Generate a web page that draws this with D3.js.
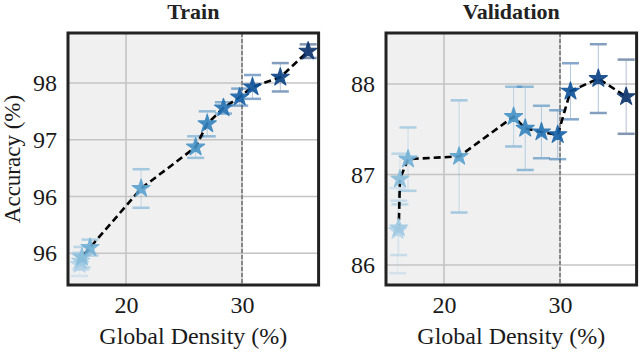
<!DOCTYPE html>
<html>
<head>
<meta charset="utf-8">
<script src="https://cdn.jsdelivr.net/npm/d3@7"></script>
<style>
  body { margin: 0; background: #fff; }
  svg text { font-family: "Liberation Serif", "DejaVu Serif", serif !important; }
</style>
</head>
<body>
<div id="chart"></div>
<script>
// data
const density  = [16.0, 16.1, 16.2, 16.9, 21.3, 26.0, 27.0, 28.4, 29.8, 30.9, 33.3, 35.7];
const trainAcc = [94.80, 94.86, 94.93, 95.10, 96.14, 96.87, 97.28, 97.56, 97.75, 97.93, 98.10, 98.56];
const trainErr = [0.20, 0.15, 0.18, 0.14, 0.34, 0.19, 0.22, 0.10, 0.15, 0.21, 0.25, 0.12];
const valAcc   = [86.38, 86.41, 86.95, 87.17, 87.20, 87.64, 87.51, 87.47, 87.44, 87.92, 88.06, 87.86];
const valErr   = [0.47, 0.30, 0.28, 0.35, 0.62, 0.33, 0.46, 0.29, 0.27, 0.31, 0.38, 0.41];

const xTicks = [20, 30];
const trainYTicks = [98, 97, 96, 95];
const trainYLabels = ["98", "97", "96", "96"];
const valYTicks = [88, 87, 86];
const valYLabels = ["88", "87", "86"];
const threshold = 30;

const W = 639, H = 352;
const svg = d3.select("#chart").append("svg")
  .attr("width", W).attr("height", H);

const color = i => d3.interpolateBlues(0.3 + 0.7 * i / (density.length - 1));

function panel(opt) {
  const x = d3.scaleLinear().domain([15, 36.6]).range([opt.left, opt.left + 250.6]);
  const y = d3.scaleLinear().domain(opt.yDomain).range([285, 33]);
  const g = svg.append("g");

  const x0 = x.range()[0], x1 = x.range()[1];
  // shaded area up to the threshold
  g.append("rect")
    .attr("x", x0).attr("y", 33)
    .attr("width", x(threshold) - x0).attr("height", 252)
    .attr("fill", "#f0f0f0");

  // grid
  g.selectAll(".vgrid").data(xTicks).join("line")
    .attr("x1", d => x(d)).attr("x2", d => x(d))
    .attr("y1", 33).attr("y2", 285)
    .attr("stroke", "#c4c4c4").attr("stroke-width", 1.6);
  g.selectAll(".hgrid").data(opt.yTicks).join("line")
    .attr("x1", x0).attr("x2", x1)
    .attr("y1", d => y(d)).attr("y2", d => y(d))
    .attr("stroke", "#c4c4c4").attr("stroke-width", 1.6);

  // threshold line
  g.append("line")
    .attr("x1", x(threshold)).attr("x2", x(threshold))
    .attr("y1", 33).attr("y2", 285)
    .attr("stroke", "#808080").attr("stroke-width", 1.8)
    .attr("stroke-dasharray", "4,2");

  // axes (labels only)
  const xAxis = g.append("g")
    .attr("transform", `translate(0,287)`)
    .call(d3.axisBottom(x).tickValues(xTicks).tickSize(0).tickPadding(9));
  const yAxis = g.append("g")
    .attr("transform", `translate(${x0 - 2},0)`)
    .call(d3.axisLeft(y).tickValues(opt.yTicks).tickSize(0).tickPadding(9)
      .tickFormat((d, i) => opt.yLabels[i]));
  [xAxis, yAxis].forEach(a => {
    a.select(".domain").remove();
    a.selectAll("text").attr("font-size", 24).attr("fill", "#1a1a1a");
  });

  const data = density.map((d, i) => ({x: d, y: opt.acc[i], e: opt.err[i], i}));

  // error bars
  const eb = g.selectAll(".eb").data(data).join("g")
    .attr("opacity", 0.5);
  eb.append("line")
    .attr("x1", d => x(d.x)).attr("x2", d => x(d.x))
    .attr("y1", d => y(d.y - d.e)).attr("y2", d => y(d.y + d.e))
    .attr("stroke", d => color(d.i)).attr("stroke-width", 0.6);
  [-1, 1].forEach(s => {
    eb.append("line")
      .attr("x1", d => x(d.x) - 8.5).attr("x2", d => x(d.x) + 8.5)
      .attr("y1", d => y(d.y + s * d.e)).attr("y2", d => y(d.y + s * d.e))
      .attr("stroke", d => color(d.i)).attr("stroke-width", 2.5);
  });

  // dashed connecting line
  g.append("path").datum(data)
    .attr("fill", "none").attr("stroke", "#000")
    .attr("stroke-width", 2.6).attr("stroke-dasharray", "7,4")
    .attr("d", d3.line().x(d => x(d.x)).y(d => y(d.y)));

  // star markers
  g.selectAll(".star").data(data).join("path")
    .attr("transform", d => `translate(${x(d.x)},${y(d.y)})`)
    .attr("d", d3.symbol(d3.symbolStar, 100))
    .attr("fill", d => color(d.i))
    .attr("stroke", d => color(d.i)).attr("stroke-width", 1.2)
    .attr("stroke-linejoin", "round")
    .attr("opacity", 0.9);

  // frame
  g.append("rect")
    .attr("x", x0).attr("y", 33)
    .attr("width", x1 - x0).attr("height", 252)
    .attr("fill", "none").attr("stroke", "#222").attr("stroke-width", 3);

  // title
  g.append("text")
    .attr("x", (x0 + x1) / 2).attr("y", 19)
    .attr("text-anchor", "middle")
    .attr("font-size", 22).attr("font-weight", "bold").attr("fill", "#222")
    .text(opt.title);

  // x label
  g.append("text")
    .attr("x", (x0 + x1) / 2).attr("y", 344)
    .attr("text-anchor", "middle")
    .attr("font-size", 24).attr("fill", "#1a1a1a")
    .text("Global Density (%)");
}

panel({left: 68, yDomain: [94.44, 98.88], yTicks: trainYTicks, yLabels: trainYLabels,
       acc: trainAcc, err: trainErr, title: "Train"});
panel({left: 386, yDomain: [85.779, 88.564], yTicks: valYTicks, yLabels: valYLabels,
       acc: valAcc, err: valErr, title: "Validation"});

// y label
svg.append("text")
  .attr("transform", "translate(20,159) rotate(-90)")
  .attr("text-anchor", "middle")
  .attr("font-size", 23).attr("fill", "#1a1a1a")
  .text("Accuracy (%)");
</script>
</body>
</html>
